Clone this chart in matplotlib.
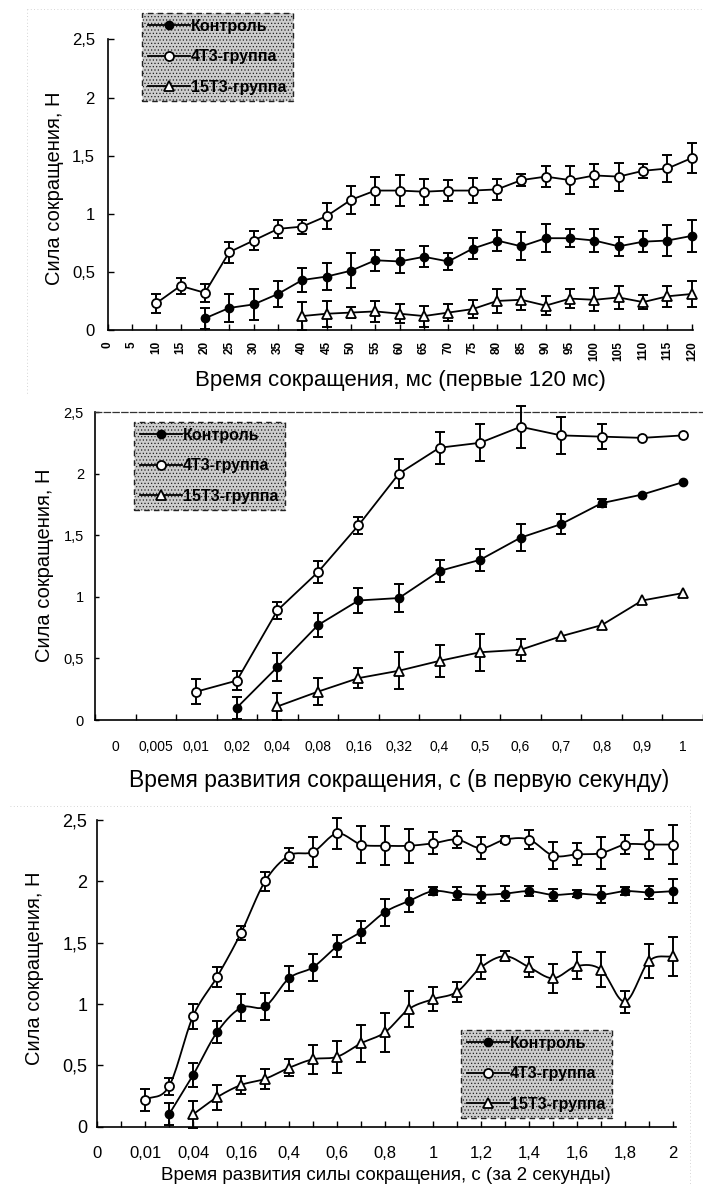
import numpy as np
import matplotlib
matplotlib.use("Agg")
import matplotlib.pyplot as plt
from matplotlib.lines import Line2D

# ---------------- data ----------------
legend_labels = ['Контроль', '4Т3-группа', '15Т3-группа']

# Panel 1: first 120 ms
p1_categories = ['0', '5', '10', '15', '20', '25', '30', '35', '40', '45', '50', '55', '60',
                 '65', '70', '75', '80', '85', '90', '95', '100', '105', '110', '115', '120']
p1_control = [None, None, None, None, 0.10, 0.19, 0.22, 0.31, 0.43, 0.46, 0.51, 0.60, 0.59,
              0.63, 0.59, 0.70, 0.77, 0.72, 0.79, 0.79, 0.77, 0.72, 0.76, 0.77, 0.81]
p1_control_err = [None, None, None, None, 0.09, 0.12, 0.13, 0.11, 0.10, 0.12, 0.15, 0.09, 0.10,
                  0.09, 0.07, 0.09, 0.09, 0.12, 0.12, 0.08, 0.10, 0.08, 0.09, 0.13, 0.14]
p1_4t3 = [None, None, 0.23, 0.38, 0.32, 0.67, 0.77, 0.87, 0.89, 0.98, 1.12, 1.20, 1.20,
          1.19, 1.20, 1.20, 1.21, 1.29, 1.32, 1.29, 1.33, 1.32, 1.37, 1.39, 1.48]
p1_4t3_err = [None, None, 0.08, 0.07, 0.08, 0.09, 0.08, 0.08, 0.06, 0.11, 0.12, 0.12, 0.13,
              0.11, 0.09, 0.11, 0.09, 0.05, 0.09, 0.12, 0.10, 0.12, 0.06, 0.12, 0.13]
p1_15t3 = [None, None, None, None, None, None, None, None, 0.12, 0.14, 0.15, 0.16, 0.14,
           0.12, 0.15, 0.18, 0.25, 0.26, 0.21, 0.27, 0.26, 0.28, 0.24, 0.29, 0.31]
p1_15t3_err = [None, None, None, None, None, None, None, None, 0.12, 0.11, 0.05, 0.09, 0.08,
               0.09, 0.07, 0.08, 0.10, 0.09, 0.08, 0.08, 0.10, 0.10, 0.06, 0.09, 0.11]

# Panel 2: first second
p2_categories = ['0', '0,005', '0,01', '0,02', '0,04', '0,08', '0,16', '0,32', '0,4', '0,5',
                 '0,6', '0,7', '0,8', '0,9', '1']
p2_control = [None, None, None, 0.10, 0.43, 0.77, 0.97, 0.99, 1.21, 1.30, 1.48, 1.59, 1.76, 1.83, 1.93]
p2_control_err = [None, None, None, 0.09, 0.11, 0.10, 0.10, 0.11, 0.09, 0.09, 0.11, 0.08, 0.03, 0.0, 0.0]
p2_4t3 = [None, None, 0.23, 0.32, 0.89, 1.20, 1.58, 2.00, 2.21, 2.25, 2.38, 2.31, 2.30, 2.29, 2.31]
p2_4t3_err = [None, None, 0.10, 0.08, 0.07, 0.09, 0.07, 0.12, 0.13, 0.15, 0.17, 0.15, 0.10, 0.0, 0.0]
p2_15t3 = [None, None, None, None, 0.11, 0.23, 0.34, 0.40, 0.48, 0.55, 0.57, 0.68, 0.77, 0.97, 1.03]
p2_15t3_err = [None, None, None, None, 0.11, 0.11, 0.08, 0.15, 0.13, 0.15, 0.09, 0.0, 0.0, 0.0, 0.0]

# Panel 3: two seconds
p3_categories = ['0', '0,005', '0,01', '0,02', '0,04', '0,08', '0,16', '0,32', '0,4', '0,5',
                 '0,6', '0,7', '0,8', '0,9', '1', '1,1', '1,2', '1,3', '1,4', '1,5', '1,6',
                 '1,7', '1,8', '1,9', '2']
p3_control = [None, None, None, 0.10, 0.42, 0.77, 0.97, 0.98, 1.21, 1.30, 1.47, 1.59, 1.75,
              1.84, 1.92, 1.90, 1.89, 1.90, 1.92, 1.89, 1.90, 1.89, 1.92, 1.91, 1.92]
p3_control_err = [None, None, None, 0.09, 0.10, 0.09, 0.11, 0.11, 0.10, 0.11, 0.09, 0.09, 0.11,
                  0.09, 0.03, 0.05, 0.07, 0.06, 0.04, 0.05, 0.03, 0.07, 0.03, 0.05, 0.10]
p3_4t3 = [None, None, 0.22, 0.33, 0.90, 1.22, 1.58, 2.00, 2.21, 2.24, 2.39, 2.30, 2.29,
          2.29, 2.31, 2.34, 2.27, 2.34, 2.34, 2.21, 2.22, 2.23, 2.30, 2.30, 2.30]
p3_4t3_err = [None, None, 0.09, 0.07, 0.10, 0.08, 0.06, 0.08, 0.06, 0.12, 0.13, 0.15, 0.16,
              0.14, 0.09, 0.07, 0.09, 0.03, 0.08, 0.11, 0.09, 0.13, 0.08, 0.12, 0.16]
p3_15t3 = [None, None, None, None, 0.10, 0.24, 0.34, 0.39, 0.48, 0.55, 0.57, 0.68, 0.77,
           0.96, 1.04, 1.10, 1.30, 1.39, 1.30, 1.21, 1.31, 1.28, 1.02, 1.35, 1.39]
p3_15t3_err = [None, None, None, None, 0.11, 0.10, 0.07, 0.08, 0.07, 0.12, 0.13, 0.15, 0.16,
               0.15, 0.10, 0.08, 0.10, 0.04, 0.08, 0.12, 0.11, 0.14, 0.09, 0.14, 0.16]

y_ticks = [0, 0.5, 1, 1.5, 2, 2.5]
y_tick_labels = ['0', '0,5', '1', '1,5', '2', '2,5']

y_title = 'Сила сокращения, Н'
x_title1 = 'Время сокращения, мс (первые 120 мс)'
x_title2 = 'Время развития сокращения, с (в первую секунду)'
x_title3 = 'Время развития силы сокращения, с (за 2 секунды)'

# ---------------- style ----------------
REG = ['Liberation Sans', 'DejaVu Sans']
NARROW = ['Liberation Sans Narrow', 'Liberation Sans', 'DejaVu Sans']
plt.rcParams['font.family'] = REG
plt.rcParams['hatch.color'] = '#8f8f8f'
plt.rcParams['hatch.linewidth'] = 0.5

W, H = 703, 1185
fig = plt.figure(figsize=(W / 100, H / 100), dpi=100)
fig.patch.set_facecolor('white')

STYLES = {
    'control': dict(marker='o', markerfacecolor='black', markeredgecolor='black',
                    markersize=6, markeredgewidth=1.0),
    '4t3': dict(marker='o', markerfacecolor='white', markeredgecolor='black',
                markersize=6.5, markeredgewidth=1.3),
    '15t3': dict(marker='^', markerfacecolor='white', markeredgecolor='black',
                 markersize=7, markeredgewidth=1.3),
}
LW = 1.3


def px_axes(left, right, top, bottom):
    return fig.add_axes([left / W, 1 - bottom / H, (right - left) / W, (bottom - top) / H])


def to_arr(vals):
    return np.array([np.nan if v is None else v for v in vals], dtype=float)


def smooth_curve(x, y, n=16):
    # Catmull-Rom style smoothing through the data points (like a "smoothed line")
    xs, ys = [], []
    m = np.zeros_like(y)
    m[1:-1] = (y[2:] - y[:-2]) / 2.0
    m[0] = y[1] - y[0]
    m[-1] = y[-1] - y[-2]
    for i in range(len(x) - 1):
        t = np.linspace(0, 1, n, endpoint=False)
        h00 = 2 * t**3 - 3 * t**2 + 1
        h10 = t**3 - 2 * t**2 + t
        h01 = -2 * t**3 + 3 * t**2
        h11 = t**3 - t**2
        xs.append(x[i] + t * (x[i + 1] - x[i]))
        ys.append(h00 * y[i] + h10 * m[i] + h01 * y[i + 1] + h11 * m[i + 1])
    xs.append([x[-1]])
    ys.append([y[-1]])
    return np.concatenate(xs), np.concatenate(ys)


def draw_series(ax, vals, errs, key, smooth=False):
    v = to_arr(vals)
    e = to_arr(errs)
    idx = np.arange(len(v), dtype=float)
    ok = ~np.isnan(v)
    x, y, ee = idx[ok], v[ok], e[ok]
    if smooth:
        sx, sy = smooth_curve(x, y)
        ax.plot(sx, sy, color='black', lw=LW, zorder=3)
    else:
        ax.plot(x, y, color='black', lw=LW, zorder=3)
    has = ee > 0
    ax.errorbar(x[has], y[has], yerr=ee[has], fmt='none', ecolor='black',
                elinewidth=1.4, capsize=3.6, capthick=1.4, zorder=4, clip_on=False)
    ax.plot(x, y, ls='none', zorder=5, clip_on=False, **STYLES[key])


def add_legend(ax, x0, y0):
    handles = [Line2D([], [], color='black', lw=LW, **STYLES[k]) for k in ['control', '4t3', '15t3']]
    leg = ax.legend(handles, legend_labels, loc='upper left',
                    bbox_to_anchor=(x0 / W, 1 - y0 / H), bbox_transform=fig.transFigure,
                    borderaxespad=0, frameon=True, fancybox=False, framealpha=1,
                    handlelength=2.6, handletextpad=0.1, labelspacing=0.96,
                    borderpad=0.38, prop=dict(family=REG, weight='bold', size=11.5))
    fr = leg.get_frame()
    fr.set_facecolor('#cdcdcd')
    fr.set_edgecolor('#222222')
    fr.set_linestyle((0, (4, 3)))
    fr.set_linewidth(1.0)
    fr.set_hatch('.....')
    leg.set_zorder(10)
    return leg


def base_axes(ax):
    for s in ['top', 'right']:
        ax.spines[s].set_visible(False)
    for s in ['left', 'bottom']:
        ax.spines[s].set_linewidth(1.2)
        ax.spines[s].set_color('black')
    ax.set_ylim(0, 2.5)
    ax.set_yticks(y_ticks)
    ax.set_yticklabels(y_tick_labels)
    ax.patch.set_alpha(0)


# faint outer chart borders (scanned frame remnants)
fig.add_artist(Line2D([27 / W, 1], [1 - 9 / H, 1 - 9 / H], transform=fig.transFigure,
                      color='#c8c8c8', lw=0.6, ls=(0, (1, 3))))
fig.add_artist(Line2D([27 / W, 27 / W], [1 - 9 / H, 1 - 395 / H], transform=fig.transFigure,
                      color='#c8c8c8', lw=0.6, ls=(0, (1, 3))))
fig.add_artist(Line2D([10 / W, 690 / W], [1 - 806 / H, 1 - 806 / H], transform=fig.transFigure,
                      color='#c8c8c8', lw=0.6, ls=(0, (1, 3))))
fig.add_artist(Line2D([690 / W, 690 / W], [1 - 806 / H, 0], transform=fig.transFigure,
                      color='#c8c8c8', lw=0.6, ls=(0, (1, 3))))

# ---------------- panel 1 ----------------
ax1 = px_axes(107.5, 693, 39.5, 330)
base_axes(ax1)
draw_series(ax1, p1_4t3, p1_4t3_err, '4t3')
draw_series(ax1, p1_control, p1_control_err, 'control')
draw_series(ax1, p1_15t3, p1_15t3_err, '15t3')
ax1.set_xlim(0, len(p1_categories) - 1 + 0.05)
ax1.set_xticks(range(len(p1_categories)))
ax1.set_xticklabels(p1_categories, rotation=90, fontsize=8.5, fontweight='bold')
ax1.tick_params(axis='x', direction='in', length=4, width=1, pad=8)
ax1.tick_params(axis='y', direction='in', length=4, width=1, pad=9, labelsize=12)
add_legend(ax1, 142, 13)
fig.text(400 / W, 1 - 380 / H, x_title1, ha='center', va='center', fontsize=16)

# ---------------- panel 2 ----------------
ax2 = px_axes(95, 703, 412, 720)
base_axes(ax2)
ax2.spines['top'].set_visible(True)
ax2.spines['top'].set_linestyle((0, (5, 2)))
ax2.spines['top'].set_linewidth(0.9)
ax2.spines['top'].set_color('#333333')
draw_series(ax2, p2_4t3, p2_4t3_err, '4t3')
draw_series(ax2, p2_control, p2_control_err, 'control')
draw_series(ax2, p2_15t3, p2_15t3_err, '15t3')
ax2.set_xlim(-0.5, len(p2_categories) - 0.5)
ax2.set_xticks(range(len(p2_categories)))
ax2.set_xticklabels(p2_categories, fontsize=10, family=NARROW)
ax2.set_xticks(np.arange(-0.5, len(p2_categories), 1.0), minor=True)
ax2.tick_params(axis='x', which='major', length=0, pad=14.5)
ax2.tick_params(axis='x', which='minor', direction='in', length=4, width=1, top=False)
ax2.tick_params(axis='y', direction='in', length=3, width=1, pad=8)
for lab in ax2.get_yticklabels():
    lab.set_family(NARROW)
    lab.set_fontsize(10.5)
add_legend(ax2, 134, 422)
fig.text(399 / W, 1 - 781 / H, x_title2, ha='center', va='center', fontsize=16.5)

# ---------------- panel 3 ----------------
ax3 = px_axes(97, 676, 820, 1126.7)
base_axes(ax3)
draw_series(ax3, p3_4t3, p3_4t3_err, '4t3', smooth=True)
draw_series(ax3, p3_control, p3_control_err, 'control', smooth=True)
draw_series(ax3, p3_15t3, p3_15t3_err, '15t3', smooth=True)
ax3.set_xlim(0, len(p3_categories) - 1 + 0.12)
ax3.set_xticks(range(len(p3_categories)))
ax3.set_xticklabels([c if i % 2 == 0 else '' for i, c in enumerate(p3_categories)],
                    fontsize=12, family=NARROW)
ax3.tick_params(axis='x', direction='in', length=4, width=1, pad=14)
ax3.tick_params(axis='y', direction='in', length=4, width=1, pad=7)
for lab in ax3.get_yticklabels():
    lab.set_family(NARROW)
    lab.set_fontsize(13)
add_legend(ax3, 461, 1030)
fig.text(386 / W, 1 - 1175 / H, x_title3, ha='center', va='center', fontsize=13.5,
         family=NARROW)

# y titles
fig.text(55 / W, 1 - 188 / H, y_title, rotation=90, ha='center', va='center', fontsize=14.5)
fig.text(45 / W, 1 - 565 / H, y_title, rotation=90, ha='center', va='center', fontsize=14.5)
fig.text(35 / W, 1 - 968 / H, y_title, rotation=90, ha='center', va='center', fontsize=14.5)

fig.savefig('out.png', dpi=100, facecolor='white')
